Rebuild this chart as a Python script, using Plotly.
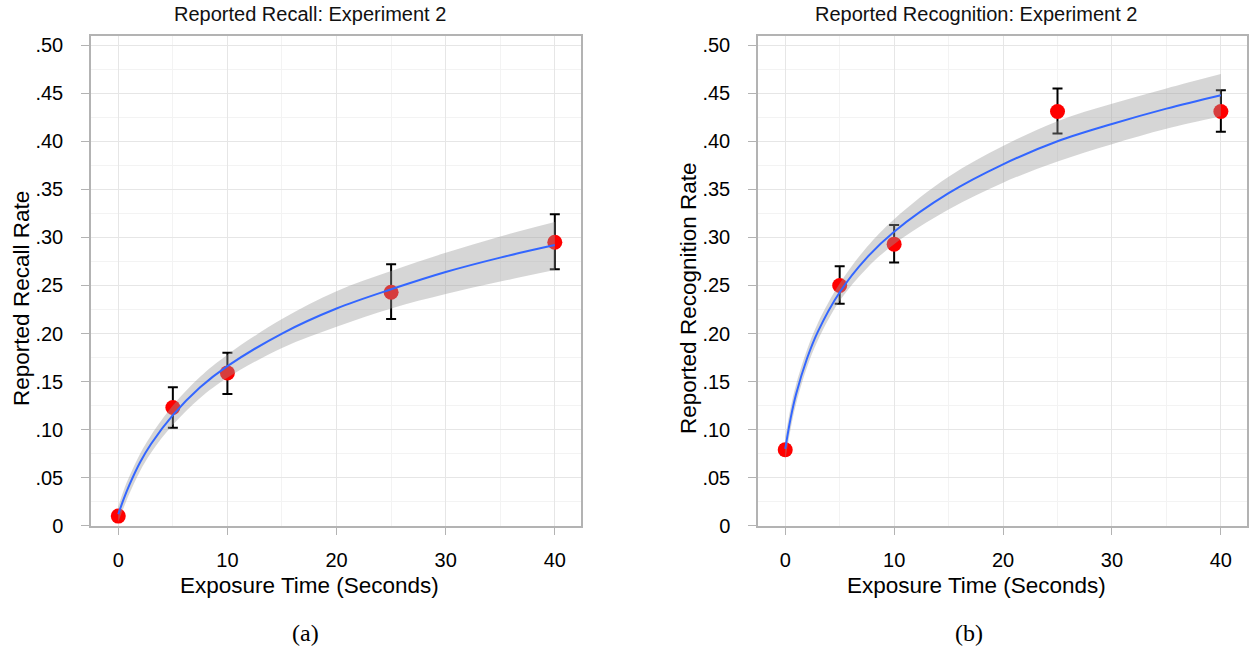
import plotly.graph_objects as go

# ---------------- data ----------------
exposure = [0, 5, 10, 25, 40]

recall_mean = [0.010, 0.123, 0.159, 0.243, 0.295]
recall_lo = [0.006, 0.102, 0.137, 0.215, 0.267]
recall_hi = [0.014, 0.144, 0.180, 0.272, 0.324]

recog_mean = [0.079, 0.250, 0.293, 0.431, 0.431]
recog_lo = [0.074, 0.231, 0.274, 0.408, 0.410]
recog_hi = [0.084, 0.270, 0.313, 0.455, 0.453]

fit_x = [0, 0.5, 1, 2, 3, 5, 7.5, 10, 15, 20, 25, 30, 35, 40]
recall_fit = [0.012, 0.028, 0.042, 0.066, 0.085, 0.115, 0.144, 0.166, 0.200, 0.226, 0.246, 0.264, 0.279, 0.292]
recall_fit_lo = [0.004, 0.019, 0.033, 0.057, 0.076, 0.105, 0.133, 0.154, 0.185, 0.207, 0.226, 0.241, 0.254, 0.266]
recall_fit_hi = [0.020, 0.037, 0.051, 0.075, 0.094, 0.125, 0.155, 0.178, 0.215, 0.244, 0.265, 0.284, 0.301, 0.316]

recog_fit = [0.080, 0.112, 0.137, 0.174, 0.202, 0.243, 0.279, 0.306, 0.346, 0.376, 0.400, 0.418, 0.434, 0.448]
recog_fit_lo = [0.068, 0.101, 0.127, 0.165, 0.193, 0.234, 0.268, 0.293, 0.329, 0.357, 0.379, 0.397, 0.413, 0.426]
recog_fit_hi = [0.092, 0.123, 0.147, 0.183, 0.211, 0.252, 0.290, 0.319, 0.363, 0.395, 0.421, 0.439, 0.455, 0.470]

y_ticks = [0, 0.05, 0.10, 0.15, 0.20, 0.25, 0.30, 0.35, 0.40, 0.45, 0.50]
y_tick_text = ["0", ".05", ".10", ".15", ".20", ".25", ".30", ".35", ".40", ".45", ".50"]
x_ticks = [0, 10, 20, 30, 40]

titles = ["Reported Recall: Experiment 2", "Reported Recognition: Experiment 2"]
y_titles = ["Reported Recall Rate", "Reported Recognition Rate"]
x_title = "Exposure Time (Seconds)"
captions = ["(a)", "(b)"]

# ---------------- layout geometry (pixels) ----------------
W, H = 1249, 654
def px_x(p):
    return p / W
def px_y(p):
    # target pixel row in the photographed page -> paper fraction
    q = (p - 1.8) / 0.981
    return 1 - q / H

FONT = "Liberation Sans, Arial, sans-serif"
BLUE = "#3366FF"
BAND = "rgba(153,153,153,0.4)"
BORDER = "#b3b3b3"

fig = go.Figure()

panels = [
    dict(xa="x", ya="y", mean=recall_mean, lo=recall_lo, hi=recall_hi,
         fit=recall_fit, flo=recall_fit_lo, fhi=recall_fit_hi),
    dict(xa="x2", ya="y2", mean=recog_mean, lo=recog_lo, hi=recog_hi,
         fit=recog_fit, flo=recog_fit_lo, fhi=recog_fit_hi),
]

for p in panels:
    fig.add_trace(go.Scatter(
        x=exposure, y=p["mean"], mode="markers",
        marker=dict(color="#FF0000", size=15, line=dict(width=0)),
        error_y=dict(type="data", symmetric=False,
                     array=[h - m for h, m in zip(p["hi"], p["mean"])],
                     arrayminus=[m - l for m, l in zip(p["mean"], p["lo"])],
                     color="black", thickness=2, width=5),
        xaxis=p["xa"], yaxis=p["ya"], showlegend=False, hoverinfo="skip"))
    fig.add_trace(go.Scatter(
        x=fit_x, y=p["fhi"], mode="lines", line=dict(width=0, shape="spline"),
        xaxis=p["xa"], yaxis=p["ya"], showlegend=False, hoverinfo="skip"))
    fig.add_trace(go.Scatter(
        x=fit_x, y=p["flo"], mode="lines", line=dict(width=0, shape="spline"),
        fill="tonexty", fillcolor=BAND,
        xaxis=p["xa"], yaxis=p["ya"], showlegend=False, hoverinfo="skip"))
    fig.add_trace(go.Scatter(
        x=fit_x, y=p["fit"], mode="lines", line=dict(width=2, color=BLUE, shape="spline"),
        xaxis=p["xa"], yaxis=p["ya"], showlegend=False, hoverinfo="skip"))

common_x = dict(range=[-2.5, 42.4], tickvals=x_ticks, ticks="outside", ticklen=8,
                tickcolor=BORDER, tickwidth=1.2, showline=True, linecolor=BORDER,
                linewidth=1.5, mirror=True, showgrid=True, gridcolor="#e6e6e6",
                gridwidth=1, zeroline=False, ticklabelstandoff=8,
                minor=dict(dtick=5, showgrid=True, gridcolor="#f3f3f3", gridwidth=1),
                tickfont=dict(family=FONT, size=20, color="black"))
common_y = dict(range=[0, 0.5094], tickvals=y_ticks, ticktext=y_tick_text,
                ticks="outside", ticklen=8, tickcolor=BORDER, tickwidth=1.2,
                showline=True, linecolor=BORDER, linewidth=1.5, mirror=True,
                showgrid=True, gridcolor="#e6e6e6", gridwidth=1, zeroline=False,
                ticklabelstandoff=14,
                minor=dict(dtick=0.025, showgrid=True, gridcolor="#f3f3f3", gridwidth=1),
                tickfont=dict(family=FONT, size=20, color="black"))

fig.update_layout(
    width=W, height=H, margin=dict(l=0, r=0, t=0, b=0),
    paper_bgcolor="white", plot_bgcolor="white", showlegend=False,
    xaxis=dict(domain=[px_x(91), px_x(581)], anchor="y", **common_x),
    yaxis=dict(domain=[px_y(526), px_y(36)], anchor="x", **common_y),
    xaxis2=dict(domain=[px_x(758), px_x(1247)], anchor="y2", **common_x),
    yaxis2=dict(domain=[px_y(526), px_y(36)], anchor="x2", **common_y),
)

ann = []
for i, (tx, xtc, ytx) in enumerate([(310, 309, 22), (976, 976, 689)]):
    ann.append(dict(text=titles[i], x=px_x(tx), y=px_y(14), xref="paper", yref="paper",
                    xanchor="center", yanchor="middle", showarrow=False,
                    font=dict(family=FONT, size=20, color="#111111")))
    ann.append(dict(text=x_title, x=px_x(xtc), y=px_y(586), xref="paper", yref="paper",
                    xanchor="center", yanchor="middle", showarrow=False,
                    font=dict(family=FONT, size=22.5, color="black")))
    ann.append(dict(text=y_titles[i], x=px_x(ytx), y=px_y(299), xref="paper", yref="paper",
                    xanchor="center", yanchor="middle", showarrow=False, textangle=-90,
                    font=dict(family=FONT, size=22.5, color="black")))
    ann.append(dict(text=captions[i], x=px_x([305, 969][i]), y=px_y(633), xref="paper",
                    yref="paper", xanchor="center", yanchor="middle", showarrow=False,
                    font=dict(family="Liberation Serif, Times New Roman, serif", size=24,
                              color="black")))
fig.update_layout(annotations=ann)

post = (
    "var h=document.documentElement,b=document.body;"
    "h.style.margin='0';h.style.padding='0';h.style.overflow='hidden';"
    "b.style.margin='0';b.style.padding='0';b.style.overflow='hidden';"
)

fig.write_html("out.html", config={"displayModeBar": False}, post_script=post)
